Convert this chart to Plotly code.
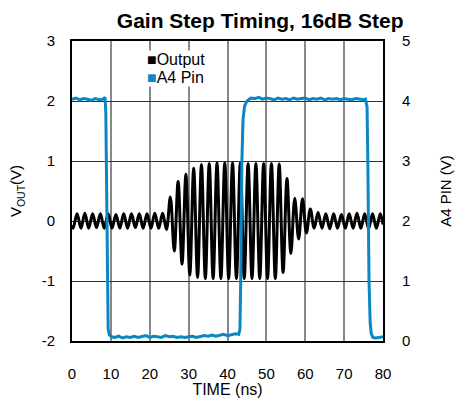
import plotly.graph_objects as go

# output waveform: sampled at each trough / peak (ns, V)
out_t = [0.0,
         0.3, 1.3, 2.3, 3.3, 4.3, 5.3, 6.3, 7.3, 8.3, 9.3,
         10.3, 11.3, 12.3, 13.3, 14.3, 15.3, 16.3, 17.3, 18.3, 19.3,
         20.3, 21.3, 22.3, 23.3, 24.3, 25.3, 26.3, 27.3, 28.3, 29.3,
         30.3, 31.3, 32.3, 33.3, 34.3, 35.3, 36.3, 37.3, 38.3, 39.3,
         40.3, 41.3, 42.3, 43.3, 44.3, 45.3, 46.3, 47.3, 48.3, 49.3,
         50.3, 51.3, 52.3, 53.3, 54.3, 55.3, 56.3, 57.3, 58.3, 59.3,
         60.3, 61.3, 62.3, 63.3, 64.3, 65.3, 66.3, 67.3, 68.3, 69.3,
         70.3, 71.3, 72.3, 73.3, 74.3, 75.3, 76.3, 77.3, 78.3, 79.3,
         80.0]
out_v = [-0.07,
         -0.12, 0.12, -0.12, 0.13, -0.12, 0.12, -0.11, 0.12, -0.12, 0.12,
         -0.12, 0.11, -0.12, 0.12, -0.12, 0.12, -0.11, 0.12, -0.12, 0.12,
         -0.12, 0.13, -0.12, 0.13, -0.14, 0.40, -0.50, 0.66, -0.72, 0.78,
         -0.90, 0.88, -0.94, 0.94, -0.96, 0.96, -0.96, 0.97, -0.96, 0.97,
         -0.96, 0.97, -0.96, 0.97, -0.96, 0.96, -0.96, 0.96, -0.96, 0.96,
         -0.96, 0.96, -0.96, 0.95, -0.86, 0.71, -0.54, 0.38, -0.30, 0.37,
         -0.20, 0.20, -0.12, 0.14, -0.12, 0.12, -0.13, 0.12, -0.12, 0.11,
         -0.12, 0.12, -0.12, 0.13, -0.12, 0.12, -0.13, 0.12, -0.12, 0.12,
         -0.06]

# A4 pin control voltage (ns, V)
a4_t = [0.0, 1.0, 2.0, 3.0, 4.0, 5.0, 6.0, 7.0, 8.0, 8.5, 8.7, 9.1, 9.3, 9.6, 10.2,
        11.0, 12.0, 13.0, 14.0, 15.0, 16.0, 17.0, 18.0, 19.0, 20.0, 21.0, 22.0,
        23.0, 24.0, 25.0, 26.0, 27.0, 28.0, 29.0, 30.0, 31.0, 32.0, 33.0, 34.0,
        35.0, 36.0, 37.0, 38.0, 39.0, 40.0, 41.0, 42.0, 42.9, 43.2, 43.4, 43.7,
        44.0, 44.4, 45.0, 46.0, 47.0, 48.0, 49.0, 50.0, 51.0, 52.0, 53.0, 54.0,
        55.0, 56.0, 57.0, 58.0, 59.0, 60.0, 61.0, 62.0, 63.0, 64.0, 65.0, 66.0,
        67.0, 68.0, 69.0, 70.0, 71.0, 72.0, 73.0, 74.0, 75.0, 75.5, 75.9, 76.1,
        76.4, 76.7, 77.0, 77.4, 78.0, 79.0, 80.0]
a4_v = [4.03, 4.05, 4.02, 4.04, 4.03, 4.01, 4.04, 4.02, 4.03, 4.06, 3.80, 0.50, 0.20, 0.10, 0.07,
        0.06, 0.08, 0.05, 0.07, 0.06, 0.08, 0.06, 0.07, 0.09, 0.06, 0.08, 0.07,
        0.06, 0.09, 0.07, 0.08, 0.06, 0.07, 0.06, 0.07, 0.08, 0.06, 0.07, 0.09,
        0.08, 0.10, 0.08, 0.09, 0.11, 0.09, 0.10, 0.12, 0.11, 0.20, 1.00, 3.00,
        3.70, 3.92, 4.00, 4.05, 4.04, 4.06, 4.03, 4.05, 4.04, 4.02, 4.05, 4.03,
        4.04, 4.02, 4.05, 4.03, 4.04, 4.05, 4.02, 4.04, 4.03, 4.05, 4.02, 4.04,
        4.03, 4.04, 4.02, 4.04, 4.03, 4.02, 4.04, 4.03, 4.02, 4.03, 3.90, 3.00,
        1.00, 0.30, 0.12, 0.06, 0.05, 0.06, 0.07]

x_ticks = [0, 10, 20, 30, 40, 50, 60, 70, 80]
y_ticks = [-2, -1, 0, 1, 2, 3]
y_ticktext = ["-2", "-1", "0", "1", "2", "3"]
y2_ticks = [0, 1, 2, 3, 4, 5]

BLUE = "#0a87c4"
FONT = "Liberation Sans, Arial, sans-serif"

fig = go.Figure()

fig.add_trace(go.Scatter(
    x=out_t, y=out_v, mode="lines",
    line=dict(color="black", width=3, shape="spline", smoothing=1.0),
    name="Output", showlegend=False,
))

fig.add_trace(go.Scatter(
    x=a4_t, y=a4_v, mode="lines", yaxis="y2",
    line=dict(color=BLUE, width=3),
    name="A4 Pin", showlegend=False,
))

# legend drawn as two text rows (tight row spacing like the original)
legend_rows = [("black", "Output", 0.937), (BLUE, "A4 Pin", 0.880)]
annotations = [
    dict(xref="paper", yref="paper", x=0.238, y=ypos, xanchor="left", yanchor="middle",
         showarrow=False, bgcolor="white", borderpad=0, font=dict(size=16),
         text=f"<span style='color:{col}'>■</span>{label}")
    for col, label, ypos in legend_rows
]

fig.update_layout(
    width=458, height=398,
    margin=dict(l=72, r=75, t=41, b=57),
    paper_bgcolor="white", plot_bgcolor="white",
    font=dict(family=FONT, size=15, color="black"),
    title=dict(text="<b>Gain Step Timing, 16dB Step</b>", x=0.568, xanchor="center",
               y=0.948, yanchor="middle", font=dict(size=21)),
    xaxis=dict(
        range=[0, 80], tickvals=x_ticks, showgrid=True, gridcolor="#888888", gridwidth=1.8,
        showline=True, linecolor="black", linewidth=2, mirror=True, automargin=False,
        ticks="", ticklabelstandoff=18, zeroline=False,
        title=dict(text="TIME (ns)", standoff=2, font=dict(size=16)),
    ),
    yaxis=dict(
        range=[-2, 3], tickvals=y_ticks, ticktext=y_ticktext,
        showgrid=True, gridcolor="#333333", gridwidth=1.2,
        showline=True, linecolor="black", linewidth=2, mirror=True, automargin=False,
        ticks="", ticklabelstandoff=12, zeroline=False,
        title=dict(text="V<sub>OUT</sub>(V)", standoff=16, font=dict(size=15)),
    ),
    yaxis2=dict(
        range=[0, 5], tickvals=y2_ticks, overlaying="y", side="right",
        showgrid=False, showline=False, zeroline=False, automargin=False,
        ticks="", ticklabelstandoff=18,
        title=dict(text="A4 PIN (V)", standoff=31, font=dict(size=15)),
    ),
    annotations=annotations,
)

# drop the browser's default body margin so the figure sits at the page origin
fig.write_html("out.html", config={"displayModeBar": False},
               post_script="document.body.style.margin='0';")
